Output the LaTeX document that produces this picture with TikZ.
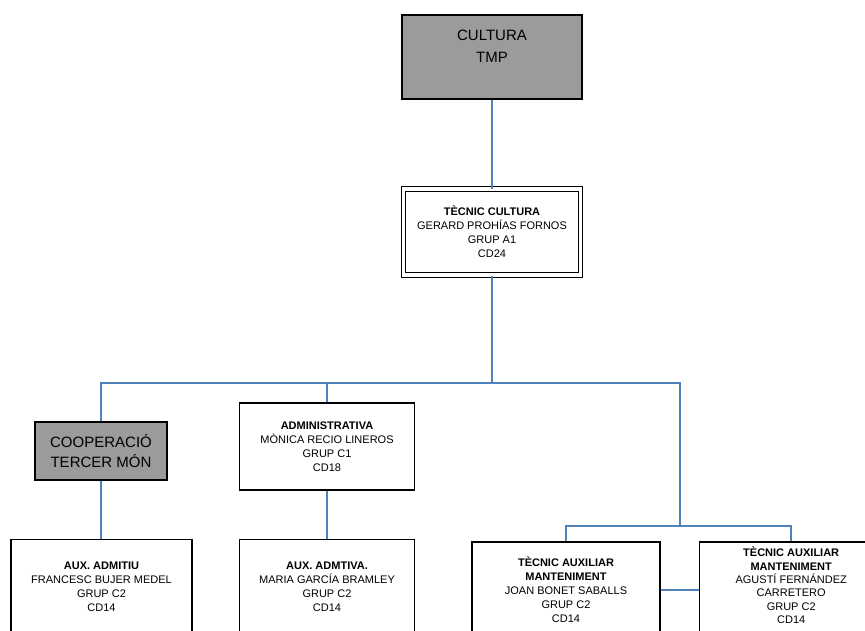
\documentclass[tikz,border=0pt]{standalone}
\usepackage{fontspec}
\setmainfont{Liberation Sans}
\usepackage{xcolor}
\usetikzlibrary{positioning}
\definecolor{linkblue}{RGB}{79,129,189}
\definecolor{unitgray}{RGB}{155,155,155}
\tikzstyle{unit} = [rectangle, draw=black, fill=unitgray, line width=1.2pt, align=center, inner sep=0pt, font=\fontsize{15}{20}\selectfont]
\tikzstyle{post} = [rectangle, draw=black, fill=white, line width=1.2pt, align=center, inner sep=0pt, font=\fontsize{11}{14}\selectfont]
\tikzstyle{link} = [draw=linkblue, line width=1.5pt]

\begin{document}
\begin{tikzpicture}[x=1pt, y=-1pt]
    \useasboundingbox (0,0) rectangle (865,630);
    \clip (0,0) rectangle (865,630);

    % units and posts
    \node[unit, minimum width=180pt, minimum height=84pt,
          label={[font=\fontsize{15}{22}\selectfont, align=center, yshift=11pt]center:CULTURA\\TMP}] (cultura) at (492,57) {};
    \node[post, double, double distance=3.2pt, line width=1pt, minimum width=177pt, minimum height=86pt] (tecnic) at (492,232)
        {\textbf{TÈCNIC CULTURA}\\GERARD PROHÍAS FORNOS\\GRUP A1\\CD24};

    \node[unit, minimum width=132pt, minimum height=58pt] (coop) at (101,451) {COOPERACIÓ\\TERCER MÓN};
    \node[post, minimum width=175pt, minimum height=87pt] (admin) at (327,446.5)
        {\textbf{ADMINISTRATIVA}\\MÒNICA RECIO LINEROS\\GRUP C1\\CD18};

    \node[post, minimum width=181pt, minimum height=95pt, below=58pt of coop, xshift=0.5pt] (auxa)
        {\textbf{AUX. ADMITIU}\\FRANCESC BUJER MEDEL\\GRUP C2\\CD14};
    \node[post, minimum width=175pt, minimum height=95pt, below=48pt of admin] (auxb)
        {\textbf{AUX. ADMTIVA.}\\MARIA GARCÍA BRAMLEY\\GRUP C2\\CD14};

    \node[post, minimum width=188pt, minimum height=96pt] (tec1) at (566,590)
        {\textbf{TÈCNIC AUXILIAR}\\\textbf{MANTENIMENT}\\JOAN BONET SABALLS\\GRUP C2\\CD14};
    \node[post, minimum width=184pt, minimum height=96pt, right=38pt of tec1,
          font=\fontsize{11}{13.4}\selectfont] (tec2)
        {\textbf{TÈCNIC AUXILIAR}\\\textbf{MANTENIMENT}\\AGUSTÍ FERNÁNDEZ\\CARRETERO\\GRUP C2\\CD14\\[-4pt]};

    \coordinate (bus) at (492,383);
    \coordinate (maint) at (680,526);

    % connectors
    \draw[link] (cultura) -- (tecnic);
    \draw[link] (tecnic) -- (bus);
    \draw[link] (bus) -| (coop);
    \draw[link] (bus) -| (admin);
    \draw[link] (bus) -| (maint);
    \draw[link] (maint) -| (tec1);
    \draw[link] (maint) -| (tec2);
    \draw[link] (coop) -- (coop |- auxa.north);
    \draw[link] (admin) -- (auxb);
    \draw[link] (tec1) -- (tec2);
\end{tikzpicture}
\end{document}
